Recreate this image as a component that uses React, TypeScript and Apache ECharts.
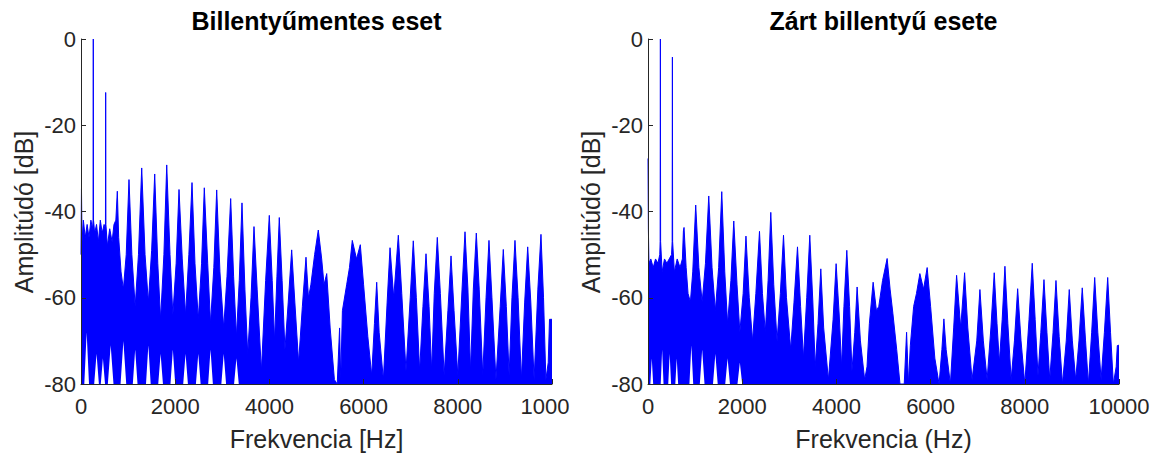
import React, { useEffect, useRef } from "react";
import * as echarts from "echarts";

// Upper envelope of the spectrum traces: [frequency Hz, amplitude dB]
const leftSpectrum: [number, number][] = [
  [0, -50], [10, -34.7], [22, -47], [50, -42], [90, -46], [130, -43], [170, -46], [210, -42], [245, -44],
  [256, -42], [261, 0], [266, -42], [290, -45], [330, -43], [370, -47], [410, -42], [450, -45], [490, -43],
  [519, -44], [524, -12.4], [529, -43], [560, -48], [610, -44], [660, -47], [700, -43], [740, -42],
  [771, -35.3], [800, -46], [850, -54], [900, -58], [960, -50], [1019, -32.6], [1080, -50], [1150, -62],
  [1220, -50], [1289, -29.9], [1360, -50], [1430, -61], [1500, -49], [1565, -31.3], [1630, -52], [1690, -65],
  [1760, -50], [1820, -29.2], [1890, -50], [1950, -64], [2020, -52], [2081, -34.9], [2150, -51], [2220, -64],
  [2290, -50], [2357, -33.3], [2420, -52], [2490, -65], [2560, -52], [2618, -34.5], [2690, -52], [2750, -66],
  [2820, -53], [2881, -35.0], [2950, -54], [3030, -67], [3100, -55], [3178, -37.0], [3240, -55], [3300, -69],
  [3360, -56], [3418, -38.0], [3480, -58], [3540, -73], [3610, -60], [3673, -43.5], [3740, -58], [3830, -77],
  [3920, -56], [3998, -40.9], [4060, -56], [4110, -70], [4160, -55], [4210, -41.4], [4270, -56], [4330, -72],
  [4400, -61], [4473, -48.9], [4540, -61], [4620, -75], [4700, -62], [4777, -50.6], [4830, -60], [4880, -57],
  [4960, -50], [5038, -44.3], [5110, -51], [5160, -57], [5217, -54.4], [5290, -67], [5380, -79], [5440, -80],
  [5490, -67], [5515, -79], [5550, -63], [5640, -57], [5700, -53], [5760, -46.7], [5850, -51], [5930, -47.7],
  [6000, -57], [6090, -69], [6172, -78], [6230, -66], [6278, -56.4], [6330, -68], [6420, -79], [6500, -61],
  [6561, -48.4], [6640, -60], [6737, -45.5], [6810, -59], [6900, -77], [6990, -60], [7055, -46.8], [7120, -60],
  [7190, -77], [7260, -62], [7325, -49.8], [7390, -62], [7445, -77], [7500, -59], [7565, -46.0], [7630, -59],
  [7710, -78], [7790, -63], [7856, -50.3], [7920, -63], [8000, -78], [8090, -58], [8153, -44.7], [8215, -58],
  [8270, -77], [8330, -58], [8393, -45.0], [8455, -58], [8530, -78], [8600, -60], [8662, -46.7], [8725, -60],
  [8810, -79], [8900, -62], [8966, -48.8], [9030, -62], [9090, -78], [9150, -60], [9214, -46.7], [9280, -60],
  [9350, -79], [9420, -61], [9484, -48.2], [9550, -61], [9620, -79], [9700, -58], [9766, -45.3], [9820, -60],
  [9870, -79], [9920, -75], [9947, -65], [10000, -65],
];

// Lower envelope (trace minima) where the trace stays above the -80 dB floor
const leftLower: [number, number][] = [
  [0, -80], [70, -80], [120, -68], [170, -80], [280, -80], [330, -73], [380, -80], [420, -80], [465, -74],
  [510, -80], [570, -80], [630, -71], [690, -80], [840, -80], [900, -70], [960, -80], [1100, -80], [1150, -72],
  [1200, -80], [1380, -80], [1430, -71], [1480, -80], [1640, -80], [1690, -73], [1740, -80], [1900, -80],
  [1950, -72], [2000, -80], [2170, -80], [2220, -73], [2270, -80], [2440, -80], [2490, -73], [2540, -80],
  [2700, -80], [2750, -72], [2800, -80], [2980, -80], [3030, -73], [3080, -80], [3250, -80], [3300, -74],
  [3350, -80], [10000, -80],
];

const rightSpectrum: [number, number][] = [
  [0, -27.7], [8, -44], [20, -52], [60, -51], [110, -53], [160, -51], [210, -52], [250, -50], [258, -47],
  [263, 0], [268, -47], [300, -54], [350, -51], [400, -52], [450, -51], [500, -50], [513, -47], [518, -4.2],
  [523, -47], [560, -54], [620, -51], [680, -53], [730, -51], [752, -44.5], [765, -43.7], [780, -43.7],
  [810, -53], [850, -59], [900, -61], [950, -54], [1013, -38.5], [1080, -53], [1150, -61], [1220, -52],
  [1290, -36.4], [1360, -53], [1430, -63], [1500, -53], [1566, -35.4], [1630, -54], [1690, -66], [1760, -56],
  [1821, -42.2], [1890, -57], [1950, -68], [2020, -59], [2080, -45.7], [2150, -60], [2220, -70], [2290, -59],
  [2367, -44.6], [2430, -59], [2490, -68], [2550, -56], [2607, -40.2], [2670, -57], [2740, -70], [2810, -59],
  [2877, -45.5], [2940, -60], [3030, -72], [3100, -61], [3174, -48.2], [3240, -62], [3300, -74], [3370, -60],
  [3435, -45.5], [3500, -61], [3550, -76], [3610, -66], [3669, -53.3], [3730, -67], [3830, -79], [3930, -65],
  [3994, -52.1], [4060, -64], [4110, -76], [4160, -62], [4221, -49.0], [4280, -62], [4330, -77], [4390, -68],
  [4440, -57.5], [4510, -70], [4600, -79], [4650, -76], [4700, -66], [4780, -56.4], [4850, -63], [4900, -62],
  [4980, -56], [5077, -50.9], [5140, -58], [5200, -63.7], [5280, -72], [5350, -80], [5440, -80], [5490, -68],
  [5530, -80], [5570, -71], [5640, -62], [5700, -59], [5772, -54.4], [5850, -58], [5927, -53.0], [6000, -62],
  [6090, -74], [6180, -80], [6240, -72], [6282, -64.9], [6330, -72], [6420, -80], [6490, -67], [6552, -54.8],
  [6640, -67], [6722, -54.2], [6790, -67], [6880, -79], [6980, -70], [7047, -58.1], [7120, -70], [7200, -79],
  [7280, -67], [7351, -54.2], [7410, -66], [7460, -75], [7520, -65], [7578, -52.7], [7640, -66], [7710, -79],
  [7780, -70], [7848, -57.9], [7920, -70], [8000, -80], [8090, -65], [8158, -52.0], [8220, -65], [8280, -78],
  [8340, -68], [8407, -55.8], [8470, -68], [8530, -79], [8600, -68], [8662, -56.0], [8730, -69], [8800, -80],
  [8880, -70], [8944, -58.1], [9010, -70], [9080, -79], [9150, -70], [9220, -57.7], [9290, -70], [9350, -80],
  [9420, -68], [9484, -55.3], [9550, -68], [9620, -79], [9690, -68], [9760, -55.3], [9820, -68], [9880, -80],
  [9940, -76], [9964, -71.1], [10000, -71],
];

const rightLower: [number, number][] = [
  [0, -80], [50, -80], [80, -74], [110, -80], [270, -80], [300, -72], [330, -80], [430, -80], [460, -73],
  [490, -80], [580, -80], [610, -74], [640, -80], [880, -80], [920, -71], [960, -80], [1100, -80], [1150, -72],
  [1200, -80], [1380, -80], [1430, -73], [1480, -80], [1640, -80], [1690, -74], [1740, -80], [1900, -80],
  [1950, -75], [2000, -80], [10000, -80],
];

const titles = ["Billentyűmentes eset", "Zárt billentyű esete"];
const xAxisNames = ["Frekvencia [Hz]", "Frekvencia (Hz)"];
const yAxisName = "Amplitúdó [dB]";
const freqRange = [0, 10000];
const freqStep = 2000;
const dbRange = [-80, 0];
const dbStep = 20;

const FONT = '"Liberation Sans", Arial, Helvetica, sans-serif';
const AXIS_COLOR = "#262626";
const BLUE = "#0000ff";

const grids = [
  { left: 81, top: 39, width: 471, height: 345 },
  { left: 648, top: 39, width: 471, height: 345 },
];

export default function App() {
  const ref = useRef<HTMLDivElement>(null);

  useEffect(() => {
    if (!ref.current) return;
    const chart = echarts.init(ref.current, undefined, { renderer: "svg" });

    const makeX = (i: number) => ({
      type: "value",
      gridIndex: i,
      min: freqRange[0],
      max: freqRange[1],
      interval: freqStep,
      axisLine: { show: true, onZero: false, lineStyle: { color: AXIS_COLOR, width: 1 } },
      axisTick: { show: true, inside: true, length: 5, lineStyle: { color: AXIS_COLOR } },
      splitLine: { show: false },
      z: 5,
      axisLabel: {
        fontSize: 22,
        fontFamily: FONT,
        color: AXIS_COLOR,
        margin: 11,
        formatter:
          i === 0
            ? (v: number) => (v === freqRange[1] ? "{c|1000}" : String(v))
            : (v: number) => String(v),
        rich: {
          c: { fontSize: 22, fontFamily: FONT, color: AXIS_COLOR, padding: [0, 14, 0, 0] },
        },
      },
    });

    const makeY = (i: number) => ({
      type: "value",
      gridIndex: i,
      min: dbRange[0],
      max: dbRange[1],
      interval: dbStep,
      axisLine: { show: true, onZero: false, lineStyle: { color: AXIS_COLOR, width: 1 } },
      axisTick: { show: true, inside: true, length: 5, lineStyle: { color: AXIS_COLOR } },
      splitLine: { show: false },
      z: 5,
      axisLabel: { fontSize: 22, fontFamily: FONT, color: AXIS_COLOR, margin: 5 },
    });

    const makeSeries = (i: number, data: [number, number][]) => ({
      type: "line",
      xAxisIndex: i,
      yAxisIndex: i,
      data,
      symbol: "none",
      clip: true,
      lineStyle: { color: BLUE, width: 1 },
      areaStyle: { color: BLUE, opacity: 1, origin: "start" },
      z: 1,
    });

    const makeLower = (i: number, data: [number, number][]) => ({
      type: "line",
      xAxisIndex: i,
      yAxisIndex: i,
      data,
      symbol: "none",
      clip: true,
      silent: true,
      lineStyle: { color: "#ffffff", width: 0 },
      areaStyle: { color: "#ffffff", opacity: 1, origin: "start" },
      z: 2,
    });

    const textEl = (x: number, y: number, text: string, font: string, fill: string, rotation = 0) => ({
      type: "text",
      x,
      y,
      rotation,
      style: {
        text,
        font,
        fill,
        align: "center",
        verticalAlign: "middle",
        textAlign: "center",
        textVerticalAlign: "middle",
      },
    });

    const centers = grids.map((g) => g.left + g.width / 2);

    chart.setOption({
      animation: false,
      grid: grids,
      xAxis: [makeX(0), makeX(1)],
      yAxis: [makeY(0), makeY(1)],
      series: [
        makeSeries(0, leftSpectrum),
        makeLower(0, leftLower),
        makeSeries(1, rightSpectrum),
        makeLower(1, rightLower),
      ],
      graphic: [
        textEl(centers[0], 21, titles[0], `bold 25px ${FONT}`, "#000000"),
        textEl(centers[1], 21, titles[1], `bold 25px ${FONT}`, "#000000"),
        textEl(centers[0], 439, xAxisNames[0], `25px ${FONT}`, AXIS_COLOR),
        textEl(centers[1], 439, xAxisNames[1], `25px ${FONT}`, AXIS_COLOR),
        textEl(24, 212, yAxisName, `25px ${FONT}`, AXIS_COLOR, Math.PI / 2),
        textEl(591, 212, yAxisName, `25px ${FONT}`, AXIS_COLOR, Math.PI / 2),
      ],
    });

    return () => chart.dispose();
  }, []);

  return (
    <div
      ref={ref}
      style={{ position: "fixed", left: 0, top: 0, width: 1157, height: 454, background: "#ffffff" }}
    />
  );
}
